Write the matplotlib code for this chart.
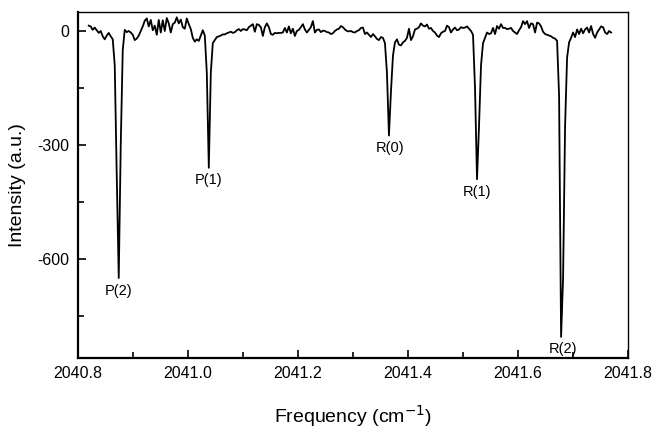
import numpy as np
import matplotlib.pyplot as plt
from matplotlib.ticker import MultipleLocator

plt.rcParams['font.family'] = ['Liberation Sans', 'DejaVu Sans']
plt.rcParams['axes.unicode_minus'] = False

# spectrum on an even frequency grid
f_start, f_end = 2040.82, 2041.769
intensity = [
    14, 12, 3, 9, 2, -5, 0, -14, -22, -12, -5, -14, -22, -90, -380, -650, -300, -50, 3, -3,
    0, -4, -10, -24, -20, -12, 0, 12, 27, 33, 12, 29, 2, 14, -10, 29, -4, 28, 0, 34,
    20, -4, 18, 22, 36, 20, 30, 10, 6, 33, 18, 5, -18, -28, -22, -26, -12, 2, -12, -110,
    -360, -110, -32, -24, -16, -14, -12, -9, -9, -6, -4, -2, -5, -3, 2, 5, 0, 5, 4, 2,
    10, 14, 18, -2, 18, 16, 10, -13, 10, 20, 10, -8, -10, -5, -6, -5, -5, -4, 8, -4,
    12, -6, 6, -13, 0, 3, 10, 18, 4, -4, 3, 10, 26, -4, 3, 4, -3, 1, 0, -3,
    -4, -8, -6, 0, 4, 6, 13, 10, 4, 0, -1, 0, -3, -4, 0, 2, 8, 9, -8, -4,
    -10, -16, -8, -14, -21, -24, -16, -18, -32, -110, -275, -160, -65, -30, -22, -36, -38, -30, -26, -18,
    6, -24, -14, 4, 6, 10, 20, 14, 12, 17, 6, 8, 0, -4, -12, -16, -6, -2, 0, 14,
    10, -4, 4, 9, 2, 4, 10, 8, 9, 12, 6, 0, -10, -150, -390, -250, -90, -32, -18, -4,
    -8, -6, 8, -8, 13, 6, 18, 8, 8, 5, 6, 8, 0, -4, -8, 2, 10, 26, 18, 26,
    8, 20, 18, -4, 22, 20, 12, -2, -8, -10, -12, -14, -18, -20, -26, -170, -805, -650, -250, -70,
    -30, -18, -4, -16, 4, -8, 6, -6, 4, 9, -4, 13, -8, -18, -4, 4, 12, 10, -4, -8,
    0, -4,
]
freq = np.linspace(f_start, f_end, len(intensity))

peak_labels = ['P(2)', 'P(1)', 'R(0)', 'R(1)', 'R(2)']
peak_freqs = [2040.875, 2041.037, 2041.367, 2041.526, 2041.682]
peak_depths = [-650, -360, -275, -390, -805]

fig = plt.figure(figsize=(6.53, 4.28), dpi=100)
ax = fig.add_axes([0.119, 0.164, 0.843, 0.808])

ax.plot(freq, intensity, color='black', lw=1.3)

for lab, f, d in zip(peak_labels, peak_freqs, peak_depths):
    ax.annotate(lab, (f, d), xytext=(0, -4), textcoords='offset points',
                ha='center', va='top', fontsize=10.5)

ax.set_xlim(2040.8, 2041.8)
ax.set_ylim(-860, 50)
ax.xaxis.set_major_locator(MultipleLocator(0.2))
ax.xaxis.set_minor_locator(MultipleLocator(0.1))
ax.yaxis.set_major_locator(MultipleLocator(300))
ax.yaxis.set_minor_locator(MultipleLocator(150))
ax.xaxis.set_major_formatter(plt.FormatStrFormatter('%.1f'))
ax.tick_params(which='both', direction='in', top=False, right=False, labelsize=11.5, width=1.2)
ax.tick_params(which='major', length=6, pad=6)
ax.tick_params(which='minor', length=4)
for s in ['left', 'bottom']:
    ax.spines[s].set_linewidth(1.6)
for s in ['top', 'right']:
    ax.spines[s].set_linewidth(1.0)

ax.set_xlabel('Frequency (cm$^{-1}$)', fontsize=14, labelpad=16)
ax.set_ylabel('Intensity (a.u.)', fontsize=14, labelpad=8)

fig.savefig('out.png', dpi=100)
